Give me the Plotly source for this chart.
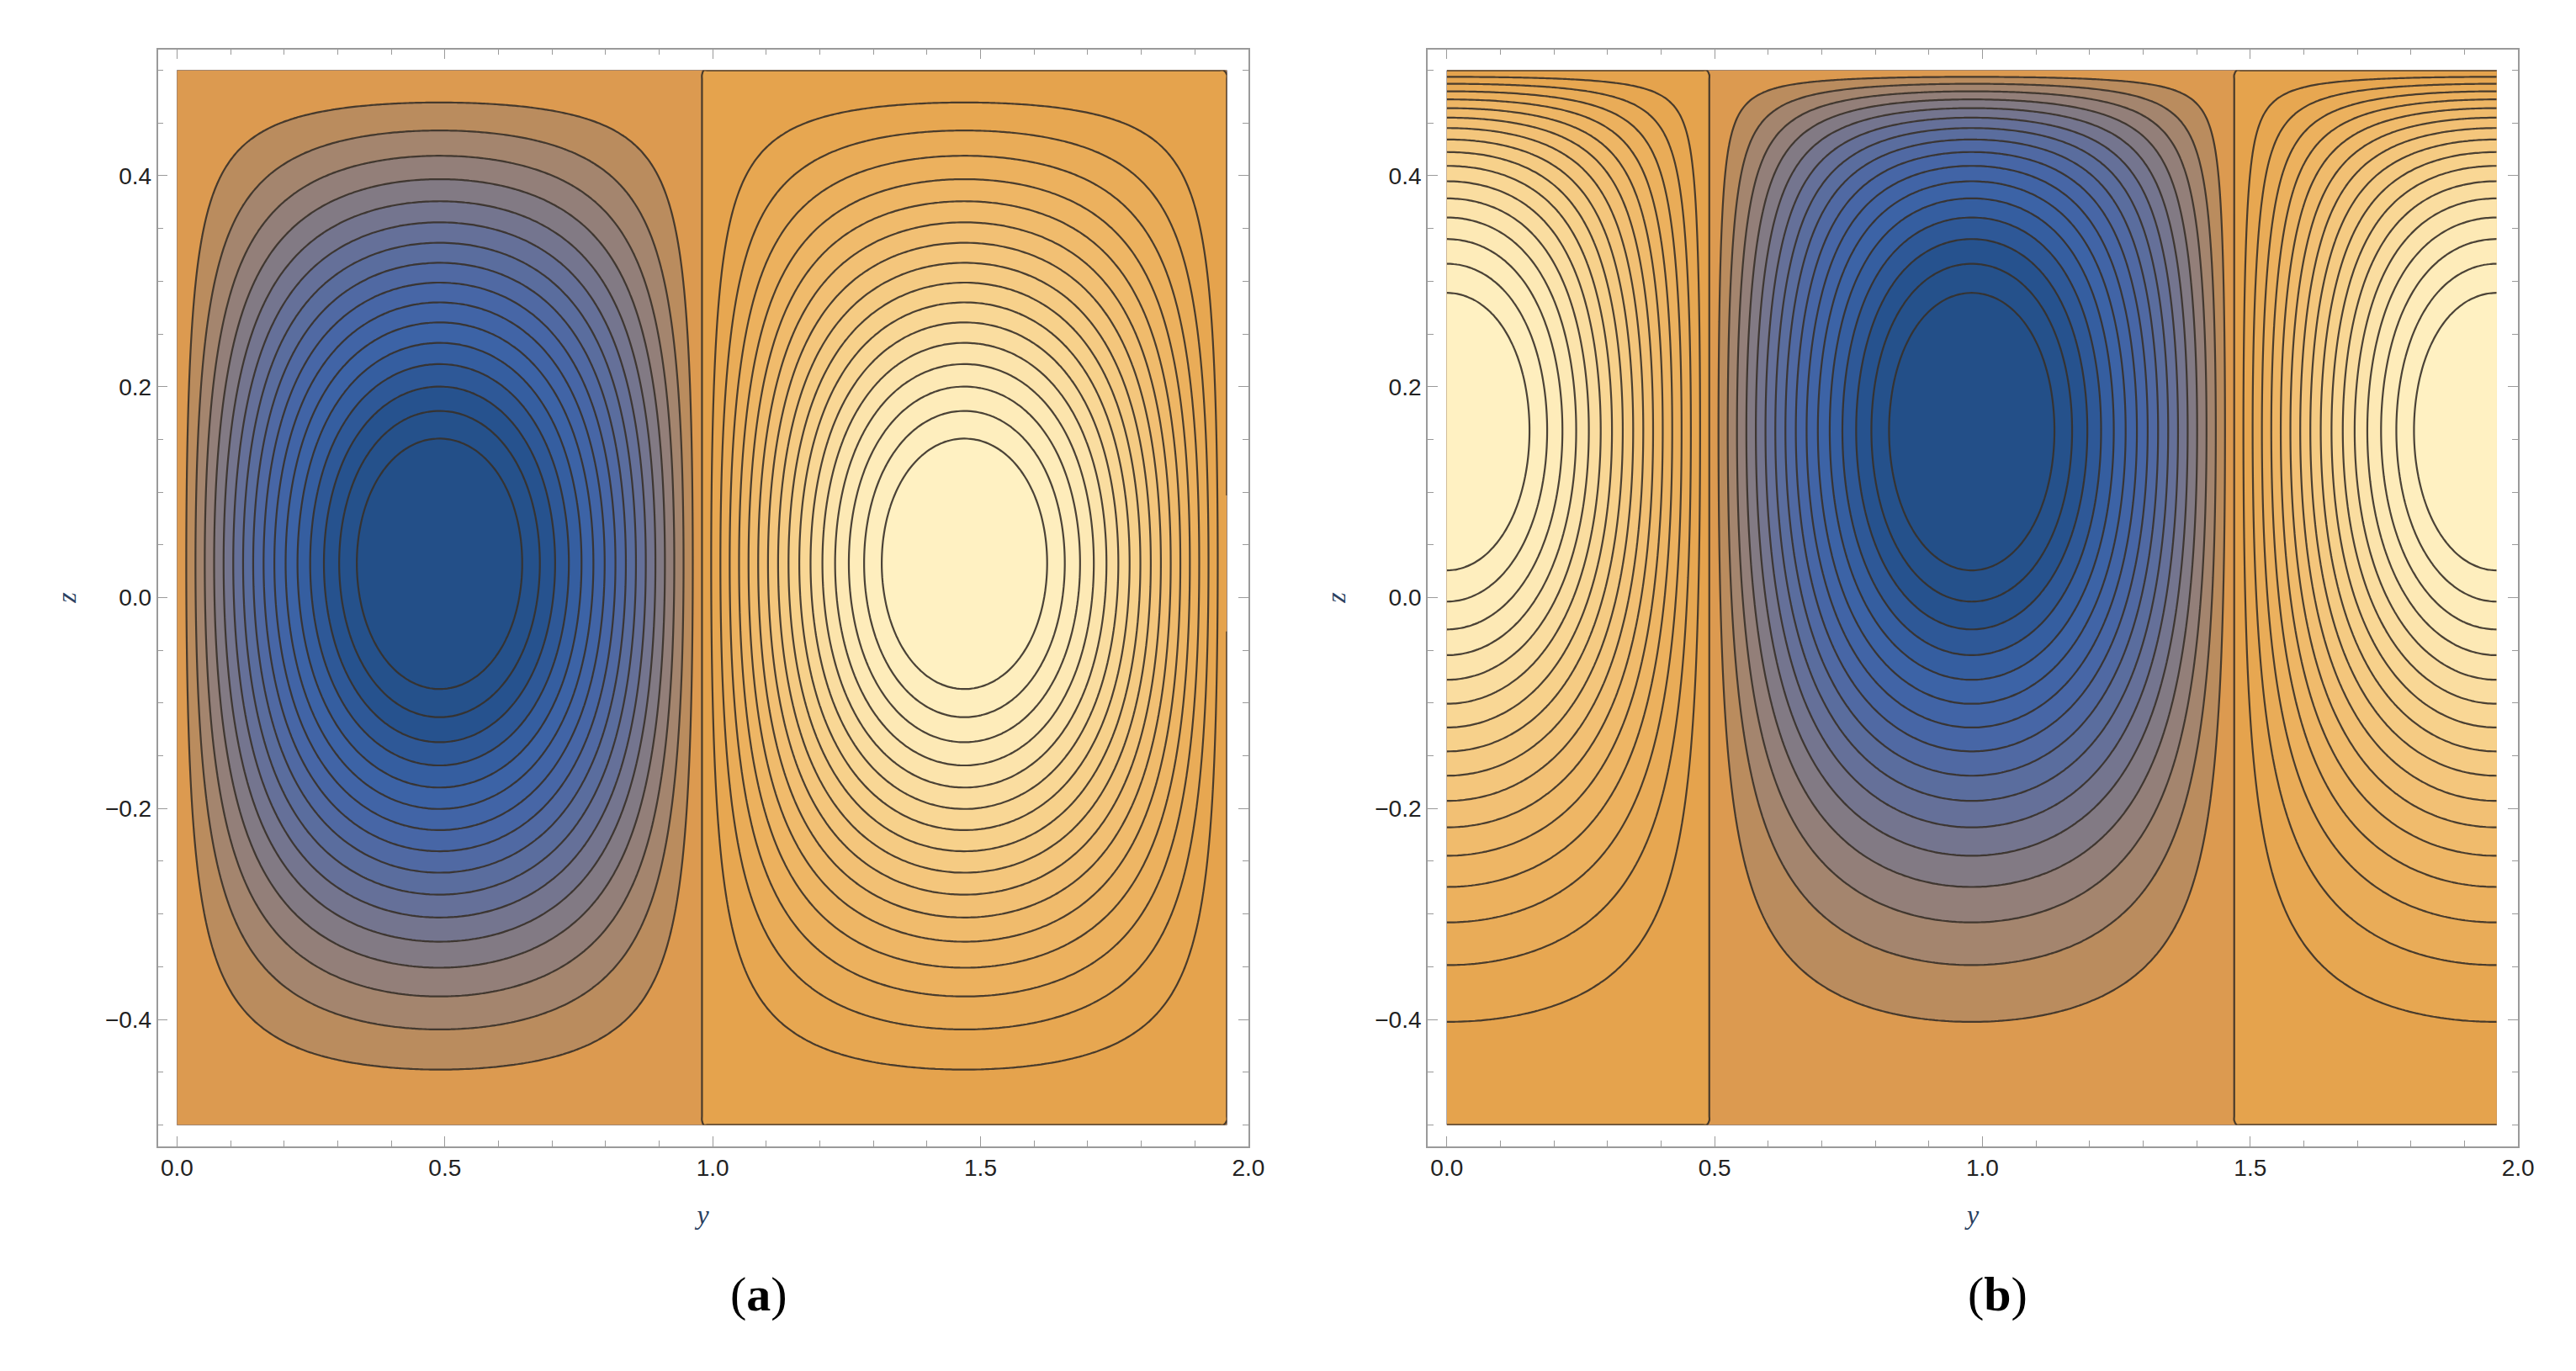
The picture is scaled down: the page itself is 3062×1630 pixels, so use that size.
import numpy as np
import plotly.graph_objects as go

# parameters
cell_len = 0.98          # zero line spacing in y
y_max = 1.96
# panel a
a_zc, a_sigma, a_dtop, a_dbot = 0.03, 0.26, 0.125, 0.16
# panel b
b_zc, b_sigma, b_dtop, b_dbot = 0.09, 0.29, 0.05, 0.6
level_step = 0.055
n_levels = 16

y = np.linspace(0, y_max, 300)
z = np.linspace(-0.5, 0.5, 240)
Y, Z = np.meshgrid(y, z)

def prof(zc, sig, dt, db):
    return (1 - np.exp(-(0.5 - Z) / dt)) * (1 - np.exp(-(Z + 0.5) / db)) * np.exp(-(Z - zc) ** 2 / (2 * sig ** 2))

ha = prof(a_zc, a_sigma, a_dtop, a_dbot)
hb = prof(b_zc, b_sigma, b_dtop, b_dbot)
psi_a = -np.sin(np.pi * Y / cell_len) * ha / ha.max()
psi_b = np.cos(np.pi * Y / cell_len) * hb / hb.max()

cs = [[0.0, "#234f88"], [0.06, "#26528e"], [0.14, "#3a62a6"], [0.22, "#4866a6"],
      [0.3, "#64709a"], [0.37, "#857b82"], [0.43, "#a7866c"], [0.47, "#c69056"],
      [0.474, "#dc9a50"], [0.5, "#dc9a50"], [0.501, "#e5a24c"], [0.53, "#e6a44e"],
      [0.65, "#efb868"], [0.8, "#f8d38e"], [0.9, "#fde8b4"], [1.0, "#fff1c2"]]

fig = go.Figure()
for i, psi in enumerate([psi_a, psi_b]):
    fig.add_trace(go.Contour(
        x=y, y=z, z=psi, xaxis="x" if i == 0 else "x2", yaxis="y" if i == 0 else "y2",
        colorscale=cs, zmin=-1, zmax=1, showscale=False,
        contours=dict(start=-level_step * n_levels, end=level_step * n_levels, size=level_step, coloring="fill"),
        line=dict(color="rgba(55,48,40,0.9)", width=2.2), hoverinfo="skip"))

ax = dict(showgrid=False, zeroline=False, showline=True, linecolor="#9a9a9a", linewidth=1.5,
          mirror="ticks", ticks="inside", ticklen=12, tickcolor="#9a9a9a",
          tickfont=dict(family="Liberation Sans", size=28, color="#222"))
xa = dict(ax, range=[-0.036, 2.0], dtick=0.5, tickformat=".1f",
          minor=dict(dtick=0.1, ticks="inside", ticklen=7, tickcolor="#9a9a9a"),
          title=dict(text="<i>y</i>", font=dict(family="Liberation Serif", size=32), standoff=30))
ya = dict(ax, range=[-0.52, 0.52], dtick=0.2, tickformat=".1f",
          minor=dict(dtick=0.05, ticks="inside", ticklen=7, tickcolor="#9a9a9a"),
          title=dict(text="<i>z</i>", font=dict(family="Liberation Serif", size=32), standoff=25))

fig.update_layout(
    width=3062, height=1630, margin=dict(l=0, r=0, t=0, b=0),
    paper_bgcolor="white", plot_bgcolor="white",
    xaxis=dict(xa, domain=[0.059, 0.485], anchor="y"),
    yaxis=dict(ya, domain=[0.169, 0.969], anchor="x"),
    xaxis2=dict(xa, domain=[0.555, 0.981], anchor="y2"),
    yaxis2=dict(ya, domain=[0.169, 0.969], anchor="x2"),
    annotations=[
        dict(text="(<b>a</b>)", x=0.282, y=0.04, xref="paper", yref="paper", showarrow=False,
             font=dict(family="Liberation Serif", size=58, color="black")),
        dict(text="(<b>b</b>)", x=0.79, y=0.04, xref="paper", yref="paper", showarrow=False,
             font=dict(family="Liberation Serif", size=58, color="black")),
    ])
fig.write_html("out.html")
